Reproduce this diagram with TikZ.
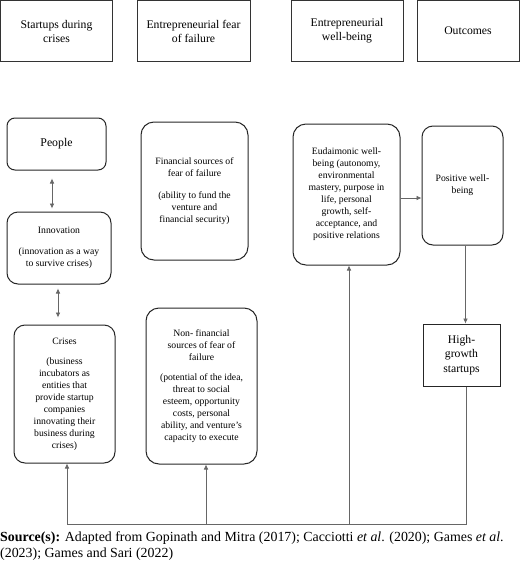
\documentclass[tikz,border=0pt]{standalone}
\usepackage{fontspec}
\setmainfont{Liberation Serif}
\usetikzlibrary{arrows.meta}
\begin{document}
\begin{tikzpicture}[x=1pt,y=-1pt,
 hdr/.style={draw=black!80,line width=1pt,inner sep=0pt,align=center,font=\fontsize{11.7}{14}\selectfont},
 rbox/.style={draw=black!85,line width=1pt,rounded corners=11pt,inner sep=0pt,align=center,font=\fontsize{9.7}{12}\selectfont},
 sbox/.style={draw=black!85,line width=1pt,inner sep=0pt,align=center,font=\fontsize{11.7}{14.5}\selectfont},
 conn/.style={draw=black!60,line width=0.6pt},
 arr/.style={conn,-{Latex[length=5pt,width=4.5pt]}},
 darr/.style={conn,{Latex[length=5pt,width=4.5pt]}-{Latex[length=5pt,width=4.5pt]}}]
\useasboundingbox (0,0) rectangle (520,563);
% header boxes
\node[hdr,minimum width=112pt,minimum height=61pt] (h1) at (56.5,31) {Startups during\\crises};
\node[hdr,minimum width=113pt,minimum height=61pt] (h2) at (193.5,31) {Entrepreneurial fear\\of failure};
\node[hdr,minimum width=112pt,minimum height=61pt] (h3) at (347,31) {Entrepreneurial\\well-being};
\node[hdr,minimum width=102pt,minimum height=61pt] (h4) at (468,31) {Outcomes};
% column 1
\node[rbox,rounded corners=8pt,minimum width=99pt,minimum height=52pt,font=\fontsize{11.8}{14}\selectfont] (people) at (56.5,144) {People};
\node[rbox,minimum width=104pt,minimum height=72pt] (innov) at (59,248) {Innovation\\[9pt](innovation as a way\\to survive crises)};
\node[rbox,minimum width=101pt,minimum height=138pt] (crises) at (64.5,394) {Crises\\[8pt](business\\incubators as\\entities that\\provide startup\\companies\\innovating their\\business during\\crises)};
% column 2
\node[rbox,rounded corners=13pt,minimum width=107pt,minimum height=138pt] (fin) at (194.5,191) {Financial sources of\\fear of failure\\[10pt](ability to fund the\\venture and\\financial security)};
\node[rbox,rounded corners=13pt,minimum width=111pt,minimum height=156pt] (nonfin) at (201.5,386) {Non- financial\\sources of fear of\\failure\\[8pt](potential of the idea,\\threat to social\\esteem, opportunity\\costs, personal\\ability, and venture’s\\capacity to execute};
% column 3
\node[rbox,rounded corners=13pt,minimum width=107pt,minimum height=141pt] (eud) at (346.5,194.5) {Eudaimonic well-\\being (autonomy,\\environmental\\mastery, purpose in\\life, personal\\growth, self-\\acceptance, and\\positive relations};
% column 4
\node[rbox,minimum width=81pt,minimum height=119pt] (pos) at (462.5,185.5) {Positive well-\\being};
\node[sbox,minimum width=77pt,minimum height=62pt] (hg) at (461.5,355) {High-\\growth\\startups};
% connectors
\draw[darr] ([xshift=-4.5pt,yshift=-8pt]people.south) -- ([xshift=-7pt,yshift=3pt]innov.north);
\draw[darr] ([xshift=-1pt,yshift=-4pt]innov.south) -- ([xshift=-6.5pt,yshift=7pt]crises.north);
\draw[arr] ([yshift=-3.5pt]eud.east) -- ([yshift=-3.5pt]eud.east -| pos.west);
\draw[arr] ([xshift=3pt]pos.south) -- ([xshift=4pt]hg.north);
\coordinate (busR) at (466,524);
\coordinate (busL) at (67,524);
\coordinate (busN) at (206,524);
\coordinate (busE) at (349,524);
\draw[conn] ([xshift=4.5pt]hg.south) -- (busR) -- (busL);
\draw[arr] (busL) -- (busL |- crises.south);
\draw[arr] (busN) -- (busN |- nonfin.south);
\draw[arr] (busE) -- (busE |- eud.south);
% caption
\node[anchor=north west,inner sep=0pt,align=left,font=\fontsize{13.9}{15.8}\selectfont] (src) at (0,531.5) {\textbf{Source(s):} Adapted from Gopinath and Mitra (2017); Cacciotti \textit{et al}. (2020); Games \textit{et al}.\\(2023); Games and Sari (2022)};
\end{tikzpicture}
\end{document}
